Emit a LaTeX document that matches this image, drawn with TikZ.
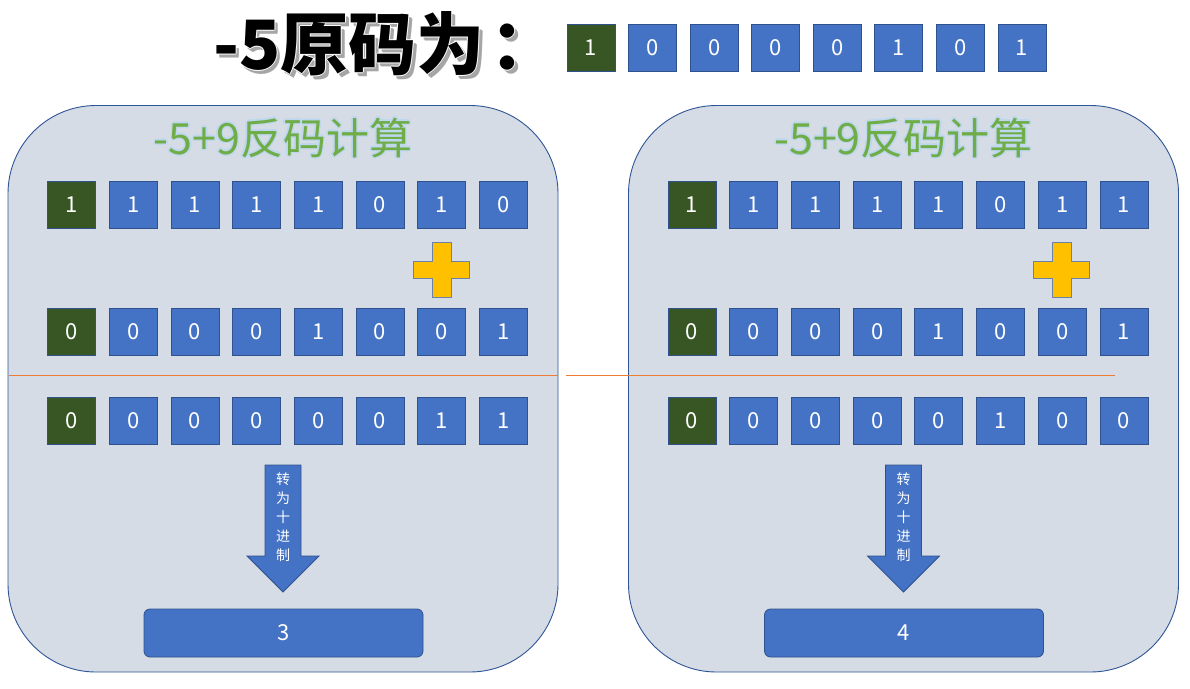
\documentclass[tikz,border=0pt]{standalone}
\usepackage{fontspec}
\setmainfont{Noto Sans CJK SC}
\usetikzlibrary{calc}
\definecolor{bitblue}{HTML}{4472C4}
\definecolor{bitborder}{HTML}{2F528F}
\definecolor{signgreen}{HTML}{375623}
\definecolor{panelfill}{HTML}{D6DCE5}
\definecolor{panelborder}{HTML}{2F5597}
\definecolor{plusfill}{HTML}{FFC000}
\definecolor{plusborder}{HTML}{6A82A8}
\definecolor{titlegreen}{HTML}{70AD47}
\definecolor{glowblue}{HTML}{BDD7EE}
\definecolor{lineorange}{HTML}{ED7D31}
\tikzset{
  bit/.style={draw=bitborder, fill=bitblue, minimum width=48pt, minimum height=47pt,
    inner sep=0pt, line width=0.8pt, text=white, font=\fontsize{22}{22}\selectfont},
  signbit/.style={bit, fill=signgreen},
  panel/.style={draw=panelborder, fill=panelfill, line width=0.9pt, rounded corners=88pt,
    minimum width=550pt, minimum height=566.5pt, inner sep=0pt},
  resultbox/.style={draw=bitborder, fill=bitblue, rounded corners=6pt, line width=0.8pt,
    minimum width=279pt, minimum height=48pt, inner sep=0pt, text=white,
    font=\fontsize{22}{22}\selectfont},
  divline/.style={draw=lineorange, line width=0.9pt},
  arrowshape/.style={draw=bitborder, fill=bitblue, line width=0.8pt},
  plusshape/.style={draw=plusborder, fill=plusfill, line width=0.8pt},
  ptitle/.style={text=titlegreen, font=\fontsize{43}{43}\selectfont, inner sep=0pt},
  pglow/.style={text=glowblue, font=\fontsize{43}{43}\selectfont, inner sep=0pt},
  mtitle/.style={font=\fontsize{68}{68}\selectfont\bfseries, inner sep=0pt},
}
% one row of eight bits: #1 name prefix, #2 x of first centre, #3 spacing, #4 y, #5 list
\newcommand\bitrowdraw[5]{%
  \foreach \v [count=\i from 0] in {#5} {
    \ifnum\i=0
      \node[signbit] (#1\i) at ({#2+#3*\i},#4) {\v};
    \else
      \node[bit] (#1\i) at ({#2+#3*\i},#4) {\v};
    \fi
  }%
}
\newcommand\titletext{-5原码为\kern6pt：}
\begin{document}
\begin{tikzpicture}[x=1pt,y=-1pt]
\useasboundingbox[fill=white] (0,0) rectangle (1190,688);

% main title
\foreach \dx/\dy in {3/3,3.5/3.5} {
  \node[mtitle, text=black!35] at ($(386,44)+(\dx,\dy)$) {\titletext};
}
\foreach \dx/\dy in {-1.2/0,1.2/0,0/-1.2,0/1.2} {
  \node[mtitle, text=white] at ($(386,44)+(\dx,\dy)$) {\titletext};
}
\node[mtitle, text=black] (title) at (386,44) {\titletext};

% top row
\bitrowdraw{T}{591}{61.57}{47.5}{1,0,0,0,0,1,0,1}

% panels
\foreach \side/\off in {L/0,R/620.5} {
  \node[panel] (\side panel) at ({283+\off},388.75) {};
  \foreach \dx/\dy in {-1.5/0,1.5/0,0/-1.5,0/1.5,-1/-1,1/1,1/-1,-1/1} {
    \node[pglow] at ({283+\off+\dx},{138+\dy}) {-5+9反码计算};
  }
  \node[ptitle] (\side title) at ({283+\off},138) {-5+9反码计算};
  % plus sign
  \draw[plusshape] ({432+\off},242) -- ({451+\off},242) -- ({451+\off},261) -- ({469+\off},261)
    -- ({469+\off},278) -- ({451+\off},278) -- ({451+\off},297) -- ({432+\off},297)
    -- ({432+\off},278) -- ({413+\off},278) -- ({413+\off},261) -- ({432+\off},261) -- cycle;
  % arrow
  \draw[arrowshape] ({265+\off},465) -- ({301+\off},465) -- ({301+\off},556) -- ({319+\off},556)
    -- ({283+\off},592) -- ({247+\off},556) -- ({265+\off},556) -- cycle;
  \node[text=white, font=\fontsize{14}{19}\selectfont, align=center, inner sep=0pt, anchor=north]
    (\side arrowtext) at ({283+\off},473) {转\\为\\十\\进\\制};
}
\bitrowdraw{La}{71.5}{61.7}{204.5}{1,1,1,1,1,0,1,0}
\bitrowdraw{Lb}{71.5}{61.7}{331.7}{0,0,0,0,1,0,0,1}
\bitrowdraw{Lc}{71.5}{61.7}{420.5}{0,0,0,0,0,0,1,1}
\bitrowdraw{Ra}{692}{61.7}{204.5}{1,1,1,1,1,0,1,1}
\bitrowdraw{Rb}{692}{61.7}{331.7}{0,0,0,0,1,0,0,1}
\bitrowdraw{Rc}{692}{61.7}{420.5}{0,0,0,0,0,1,0,0}
\node[resultbox] (Lresult) at (283.5,633) {3};
\node[resultbox] (Rresult) at (904,633) {4};

% divider lines
\coordinate (d1a) at (8.5,375.3);
\coordinate (d1b) at (558,375.3);
\coordinate (d2a) at (566,375.3);
\coordinate (d2b) at (1115,375.3);
\draw[divline] (d1a) -- (d1b);
\draw[divline] (d2a) -- (d2b);
\end{tikzpicture}
\end{document}
